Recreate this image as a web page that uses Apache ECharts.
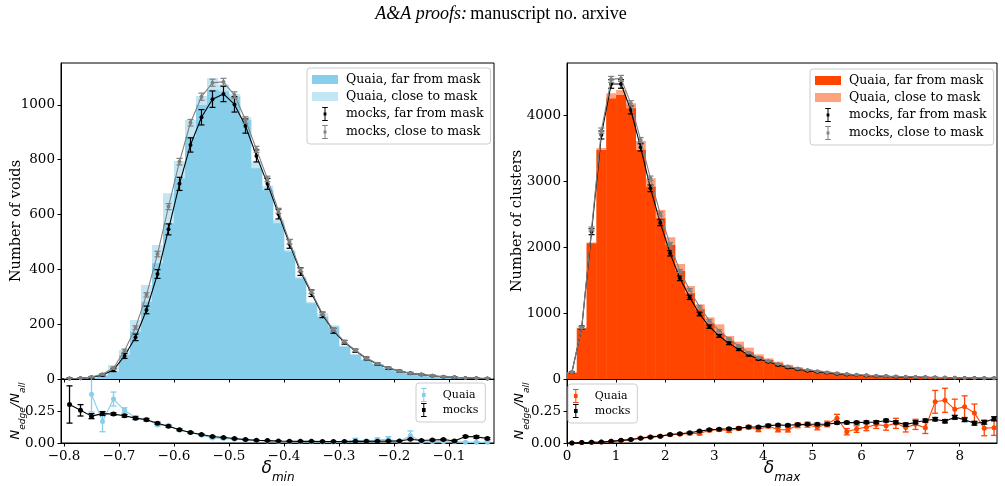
<!DOCTYPE html>
<html>
<head>
<meta charset="utf-8">
<script src="https://cdn.jsdelivr.net/npm/echarts@6/dist/echarts.min.js"></script>
<style>
html, body { margin: 0; padding: 0; background: #fff; }
#chart { width: 1005px; height: 486px; }
</style>
</head>
<body>
<div id="chart"></div>
<script>
// bin centres
var binsL = [-0.79, -0.77, -0.75, -0.73, -0.71, -0.69, -0.67, -0.65, -0.63, -0.61, -0.59, -0.57, -0.55,
  -0.53, -0.51, -0.49, -0.47, -0.45, -0.43, -0.41, -0.39, -0.37, -0.35, -0.33, -0.31, -0.29, -0.27,
  -0.25, -0.23, -0.21, -0.19, -0.17, -0.15, -0.13, -0.11, -0.09, -0.07, -0.05, -0.03];
var binsR = [0.1, 0.3, 0.5, 0.7, 0.9, 1.1, 1.3, 1.5, 1.7, 1.9, 2.1, 2.3, 2.5, 2.7, 2.9, 3.1, 3.3, 3.5,
  3.7, 3.9, 4.1, 4.3, 4.5, 4.7, 4.9, 5.1, 5.3, 5.5, 5.7, 5.9, 6.1, 6.3, 6.5, 6.7, 6.9, 7.1, 7.3, 7.5,
  7.7, 7.9, 8.1, 8.3, 8.5, 8.7];

// voids (delta_min)
var voidsFar = [1, 2, 4, 12, 27, 88, 173, 282, 422, 568, 732, 884, 1000, 1055, 1050, 1030, 945, 769,
  690, 568, 465, 367, 276, 227, 191, 118, 88, 69, 55, 39, 27, 20, 13, 9, 7, 5, 4, 3, 2];
var voidsAll = [2, 3, 6, 18, 51, 106, 215, 343, 489, 678, 795, 945, 1033, 1097, 1075, 1040, 955, 793,
  705, 580, 472, 372, 282, 240, 196, 122, 91, 71, 56, 40, 28, 21, 14, 10, 7, 5, 4, 3, 2];
var mockVoidsFar = [2, 3, 6, 15, 33, 84, 152, 252, 383, 546, 712, 854, 955, 1021, 1040, 1002, 923, 814,
  712, 602, 493, 392, 313, 234, 176, 134, 103, 75, 55, 39, 29, 21, 16, 12, 8, 6, 4, 3, 2];
var mockVoidsFarErr = [2, 2, 3, 4, 6, 9, 12, 14, 16, 20, 24, 26, 28, 30, 28, 28, 26, 22, 20, 18, 16, 14,
  12, 10, 9, 7, 6, 5, 4, 4, 3, 3, 2, 2, 2, 2, 1, 1, 1];
var mockVoidsClose = [2, 3, 7, 17, 40, 103, 187, 307, 456, 629, 793, 935, 1030, 1081, 1084, 1036, 945,
  838, 730, 614, 501, 398, 318, 238, 179, 136, 104, 76, 56, 40, 29, 21, 16, 12, 8, 6, 4, 3, 2];
var mockVoidsCloseErr = [1, 1, 2, 3, 4, 6, 7, 8, 10, 11, 12, 12, 13, 13, 13, 12, 12, 11, 10, 9, 8, 7, 6,
  5, 5, 4, 4, 3, 3, 2, 2, 2, 2, 1, 1, 1, 1, 1, 1];

var voidsRatio = [null, null, 0.385, 0.169, 0.347, 0.258, 0.2, 0.185, 0.143, 0.137, 0.102, 0.083, 0.062,
  0.04, 0.035, 0.03, 0.025, 0.02, 0.015, 0.012, 0.01, 0.01, 0.01, 0.008, 0.008, 0.01, 0.022, 0.015,
  0.025, 0.03, 0.012, 0.06, 0.01, 0.01, 0.01, 0.01, 0.005, 0.005, 0.005];
var voidsRatioErr = [null, null, 0.14, 0.08, 0.055, 0.02, 0.015, 0.012, 0.01, 0.01, 0.008, 0.007, 0.006,
  0.005, 0.005, 0.004, 0.004, 0.003, 0.003, 0.003, 0.003, 0.003, 0.003, 0.003, 0.004, 0.006, 0.015,
  0.01, 0.015, 0.02, 0.01, 0.035, 0.01, 0.01, 0.01, 0.01, 0.005, 0.005, 0.005];
var mockVoidsRatio = [0.304, 0.258, 0.212, 0.232, 0.228, 0.215, 0.196, 0.183, 0.156, 0.132, 0.105,
  0.083, 0.067, 0.051, 0.043, 0.035, 0.027, 0.022, 0.019, 0.016, 0.014, 0.013, 0.013, 0.012, 0.012,
  0.012, 0.013, 0.013, 0.014, 0.015, 0.016, 0.03, 0.02, 0.024, 0.027, 0.016, 0.051, 0.048, 0.035];
var mockVoidsRatioErr = [0.147, 0.045, 0.02, 0.015, 0.01, 0.01, 0.01, 0.008, 0.008, 0.007, 0.006, 0.005,
  0.004, 0.004, 0.003, 0.003, 0.003, 0.002, 0.002, 0.002, 0.002, 0.002, 0.002, 0.002, 0.002, 0.002,
  0.002, 0.002, 0.002, 0.002, 0.003, 0.004, 0.004, 0.005, 0.005, 0.006, 0.008, 0.01, 0.008];

// clusters (delta_max)
var clustFar = [95, 768, 2055, 3470, 4252, 4303, 4101, 3470, 2914, 2434, 2030, 1636, 1298, 1056, 843,
  692, 581, 490, 404, 338, 288, 237, 190, 160, 135, 115, 98, 85, 72, 62, 54, 47, 42, 37, 33, 30, 27,
  23, 20, 17, 15, 13, 11, 10];
var clustAll = [100, 780, 2070, 3500, 4330, 4380, 4180, 3606, 3040, 2560, 2146, 1742, 1409, 1131, 934,
  828, 652, 566, 475, 374, 313, 263, 215, 180, 152, 130, 110, 95, 80, 70, 62, 54, 48, 42, 38, 34, 30,
  28, 24, 21, 18, 16, 13, 12];
var mockClustFar = [101, 778, 2232, 3697, 4470, 4470, 4076, 3510, 2889, 2369, 1904, 1525, 1237, 985,
  793, 652, 540, 449, 364, 303, 263, 212, 175, 148, 126, 108, 93, 80, 69, 60, 52, 45, 40, 35, 31, 28,
  25, 22, 20, 18, 16, 14, 12, 11];
var mockClustFarErr = [10, 25, 45, 60, 65, 65, 60, 55, 50, 45, 40, 35, 32, 28, 25, 22, 20, 18, 15, 14,
  12, 11, 10, 9, 8, 7, 7, 6, 6, 5, 5, 4, 4, 4, 3, 3, 3, 3, 2, 2, 2, 2, 2, 2];
var mockClustClose = [101, 778, 2273, 3763, 4540, 4555, 4176, 3621, 3040, 2500, 2040, 1636, 1348, 1096,
  884, 732, 606, 500, 399, 323, 273, 227, 190, 160, 136, 117, 100, 86, 75, 65, 57, 50, 44, 39, 34, 30,
  27, 24, 21, 19, 17, 15, 13, 12];
var mockClustCloseErr = [6, 15, 30, 40, 45, 45, 40, 38, 35, 30, 27, 24, 21, 18, 16, 14, 12, 11, 10, 9,
  8, 7, 6, 6, 5, 5, 4, 4, 4, 3, 3, 3, 3, 2, 2, 2, 2, 2, 2, 2, 1, 1, 1, 1];

var clustRatio = [0, 0.003, 0.005, 0.008, 0.013, 0.02, 0.027, 0.04, 0.05, 0.054, 0.065, 0.07, 0.075,
  0.075, 0.1, 0.105, 0.097, 0.115, 0.125, 0.105, 0.135, 0.105, 0.105, 0.14, 0.145, 0.125, 0.15, 0.196,
  0.089, 0.11, 0.125, 0.145, 0.136, 0.155, 0.122, 0.147, 0.12, 0.325, 0.337, 0.266, 0.287, 0.237,
  0.117, 0.12];
var clustRatioErr = [0.001, 0.002, 0.002, 0.003, 0.003, 0.004, 0.005, 0.006, 0.006, 0.007, 0.008, 0.008,
  0.009, 0.01, 0.011, 0.012, 0.012, 0.013, 0.014, 0.015, 0.016, 0.017, 0.018, 0.019, 0.02, 0.021,
  0.022, 0.03, 0.025, 0.026, 0.028, 0.03, 0.035, 0.04, 0.035, 0.04, 0.045, 0.09, 0.095, 0.08, 0.085,
  0.07, 0.06, 0.06];
var mockClustRatio = [0, 0.003, 0.005, 0.008, 0.013, 0.021, 0.027, 0.038, 0.046, 0.054, 0.067, 0.073,
  0.081, 0.094, 0.105, 0.108, 0.113, 0.116, 0.126, 0.126, 0.137, 0.142, 0.14, 0.145, 0.148, 0.148,
  0.148, 0.159, 0.161, 0.161, 0.164, 0.164, 0.177, 0.164, 0.145, 0.164, 0.177, 0.188, 0.172, 0.204,
  0.183, 0.156, 0.164, 0.191];
var mockClustRatioErr = [0.001, 0.001, 0.001, 0.002, 0.002, 0.002, 0.003, 0.003, 0.003, 0.004, 0.004,
  0.004, 0.005, 0.005, 0.005, 0.005, 0.006, 0.006, 0.006, 0.007, 0.007, 0.007, 0.008, 0.008, 0.008,
  0.009, 0.009, 0.009, 0.01, 0.01, 0.01, 0.01, 0.011, 0.011, 0.012, 0.012, 0.012, 0.013, 0.013, 0.014,
  0.014, 0.015, 0.015, 0.016];

var xTicksL = [-0.8, -0.7, -0.6, -0.5, -0.4, -0.3, -0.2, -0.1];
var xTicksR = [0, 1, 2, 3, 4, 5, 6, 7, 8];
var ratioTicks = [0, 0.25];

var SERIF = 'DejaVu Serif';
var BLUE = '#87CEEB', BLUE_L = '#C3E6F5', RED = '#FF4500', RED_L = '#FFA280', GREY = '#808080';

var chart = echarts.init(document.getElementById('chart'));

function pairs(xs, ys) {
  var out = [];
  xs.forEach(function (x, i) { if (ys[i] != null) out.push([x, ys[i]]); });
  return out;
}
function errData(xs, ys, es) {
  var out = [];
  xs.forEach(function (x, i) { if (ys[i] != null) out.push([x, ys[i] - es[i], ys[i] + es[i]]); });
  return out;
}

function histSeries(name, xs, ys, half, color, xi, yi) {
  return {
    type: 'custom', name: name, xAxisIndex: xi, yAxisIndex: yi, clip: true, z: 1,
    itemStyle: { color: color },
    data: pairs(xs, ys),
    renderItem: function (params, api) {
      var x = api.value(0), y = api.value(1);
      var p0 = api.coord([x - half, y]);
      var p1 = api.coord([x + half, 0]);
      return { type: 'rect',
        shape: { x: p0[0], y: p0[1], width: p1[0] - p0[0] + 0.3, height: p1[1] - p0[1] },
        style: { fill: color } };
    }
  };
}

function errSeries(name, xs, ys, es, color, xi, yi, lw, z) {
  return {
    type: 'custom', name: name, xAxisIndex: xi, yAxisIndex: yi, clip: true, z: z,
    itemStyle: { color: color },
    data: errData(xs, ys, es),
    renderItem: function (params, api) {
      var x = api.value(0);
      var a = api.coord([x, api.value(2)]), b = api.coord([x, api.value(1)]);
      var c = 3;
      var st = { stroke: color, lineWidth: lw };
      return { type: 'group', children: [
        { type: 'line', shape: { x1: a[0], y1: a[1], x2: b[0], y2: b[1] }, style: st },
        { type: 'line', shape: { x1: a[0] - c, y1: a[1], x2: a[0] + c, y2: a[1] }, style: st },
        { type: 'line', shape: { x1: b[0] - c, y1: b[1], x2: b[0] + c, y2: b[1] }, style: st }
      ] };
    }
  };
}

function lineSeries(name, xs, ys, color, xi, yi, size, z) {
  return {
    type: 'line', name: name, xAxisIndex: xi, yAxisIndex: yi, z: z,
    data: pairs(xs, ys), symbol: 'circle', symbolSize: size, showSymbol: true,
    lineStyle: { color: color, width: 1.1 }, itemStyle: { color: color },
    emphasis: { disabled: true }
  };
}

var rectIcon = 'path://M0,0H26V9H0Z';
var errIcon = 'path://M1,0H9V1.4H5.7V8H7V12H5.7V18.6H9V20H1V18.6H4.3V12H3V8H4.3V1.4H1Z';
var errIconDot = 'path://M1,0H9V1.4H5.7V7.3H7.6V12.7H5.7V18.6H9V20H1V18.6H4.3V12.7H2.4V7.3H4.3V1.4H1Z';

function legend(left, top, items, fs, iw, gap) {
  return {
    left: left, top: top, orient: 'vertical', selectedMode: false,
    itemWidth: iw, itemHeight: 14, itemGap: gap,
    padding: [5, 7, 5, 5],
    backgroundColor: 'rgba(255,255,255,0.8)', borderColor: '#cccccc', borderWidth: 1, borderRadius: 3,
    textStyle: { fontFamily: SERIF, fontSize: fs, color: '#000', padding: [0, 0, 0, 3] },
    formatter: function (n) { return n.split('::')[1]; },
    data: items
  };
}

function valueAxis(gi, min, max, ticks, showLabels, fmt) {
  return {
    type: 'value', gridIndex: gi, min: min, max: max,
    splitLine: { show: false },
    axisLine: { show: true, onZero: false, lineStyle: { color: '#000', width: 1 } },
    axisTick: { show: true, length: 3.5, customValues: ticks, lineStyle: { color: '#000', width: 1 } },
    axisLabel: { show: showLabels, customValues: ticks, margin: 6, color: '#000',
      fontFamily: SERIF, fontSize: 13.5, formatter: fmt }
  };
}

function fmtL(v) { return (v < 0 ? '\u2212' : '') + Math.abs(v).toFixed(1); }
function fmtInt(v) { return String(Math.round(v)); }
function fmt2(v) { return v.toFixed(2); }

var gridStyle = { show: true, borderColor: '#000', borderWidth: 1, backgroundColor: 'transparent' };

var option = {
  animation: false,
  backgroundColor: '#fff',
  grid: [
    Object.assign({ left: 61, top: 63, width: 433, height: 316 }, gridStyle),
    Object.assign({ left: 61, top: 379, width: 433, height: 64 }, gridStyle),
    Object.assign({ left: 567, top: 63, width: 430, height: 316 }, gridStyle),
    Object.assign({ left: 567, top: 379, width: 430, height: 64 }, gridStyle)
  ],
  xAxis: [
    valueAxis(0, -0.8055, -0.018, xTicksL, false, fmtL),
    valueAxis(1, -0.8055, -0.018, xTicksL, true, fmtL),
    valueAxis(2, 0, 8.76, xTicksR, false, fmtInt),
    valueAxis(3, 0, 8.76, xTicksR, true, fmtInt)
  ],
  yAxis: [
    valueAxis(0, 0, 1153, [0, 200, 400, 600, 800, 1000], true, fmtInt),
    valueAxis(1, 0, 0.505, ratioTicks, true, fmt2),
    valueAxis(2, 0, 4788, [0, 1000, 2000, 3000, 4000], true, fmtInt),
    valueAxis(3, 0, 0.505, ratioTicks, true, fmt2)
  ],
  legend: [
    legend(307, 68, [
      { name: 'L::Quaia, far from mask', icon: rectIcon, itemStyle: { color: BLUE } },
      { name: 'L::Quaia, close to mask', icon: rectIcon, itemStyle: { color: BLUE_L } },
      { name: 'L::mocks, far from mask', icon: errIcon, itemStyle: { color: '#000' } },
      { name: 'L::mocks, close to mask', icon: errIcon, itemStyle: { color: GREY } }
    ], 12.5, 26, 4),
    legend(810, 69, [
      { name: 'R::Quaia, far from mask', icon: rectIcon, itemStyle: { color: RED } },
      { name: 'R::Quaia, close to mask', icon: rectIcon, itemStyle: { color: RED_L } },
      { name: 'R::mocks, far from mask', icon: errIcon, itemStyle: { color: '#000' } },
      { name: 'R::mocks, close to mask', icon: errIcon, itemStyle: { color: GREY } }
    ], 12.5, 26, 4),
    legend(416, 383, [
      { name: 'LB::Quaia', icon: errIconDot, itemStyle: { color: BLUE } },
      { name: 'LB::mocks', icon: errIconDot, itemStyle: { color: '#000' } }
    ], 11, 22, 1),
    legend(568, 384, [
      { name: 'RB::Quaia', icon: errIconDot, itemStyle: { color: RED } },
      { name: 'RB::mocks', icon: errIconDot, itemStyle: { color: '#000' } }
    ], 11, 22, 1)
  ],
  series: [
    // voids, top
    histSeries('L::Quaia, close to mask', binsL, voidsAll, 0.01, BLUE_L, 0, 0),
    histSeries('L::Quaia, far from mask', binsL, voidsFar, 0.01, BLUE, 0, 0),
    errSeries('L::mocks, far from mask', binsL, mockVoidsFar, mockVoidsFarErr, '#000', 0, 0, 1.2, 3),
    lineSeries('L::mocks, far from mask', binsL, mockVoidsFar, '#000', 0, 0, 4, 3),
    errSeries('L::mocks, close to mask', binsL, mockVoidsClose, mockVoidsCloseErr, GREY, 0, 0, 1.2, 4),
    lineSeries('L::mocks, close to mask', binsL, mockVoidsClose, GREY, 0, 0, 4, 4),
    // voids, ratio
    errSeries('LB::Quaia', binsL, voidsRatio, voidsRatioErr, BLUE, 1, 1, 1.3, 3),
    lineSeries('LB::Quaia', binsL, voidsRatio, BLUE, 1, 1, 5, 3),
    errSeries('LB::mocks', binsL, mockVoidsRatio, mockVoidsRatioErr, '#000', 1, 1, 1.3, 4),
    lineSeries('LB::mocks', binsL, mockVoidsRatio, '#000', 1, 1, 5, 4),
    // clusters, top
    histSeries('R::Quaia, close to mask', binsR, clustAll, 0.1, RED_L, 2, 2),
    histSeries('R::Quaia, far from mask', binsR, clustFar, 0.1, RED, 2, 2),
    errSeries('R::mocks, far from mask', binsR, mockClustFar, mockClustFarErr, '#000', 2, 2, 1.2, 3),
    lineSeries('R::mocks, far from mask', binsR, mockClustFar, '#000', 2, 2, 4, 3),
    errSeries('R::mocks, close to mask', binsR, mockClustClose, mockClustCloseErr, GREY, 2, 2, 1.2, 4),
    lineSeries('R::mocks, close to mask', binsR, mockClustClose, GREY, 2, 2, 4, 4),
    // clusters, ratio
    errSeries('RB::Quaia', binsR, clustRatio, clustRatioErr, RED, 3, 3, 1.3, 3),
    lineSeries('RB::Quaia', binsR, clustRatio, RED, 3, 3, 5, 3),
    errSeries('RB::mocks', binsR, mockClustRatio, mockClustRatioErr, '#000', 3, 3, 1.3, 4),
    lineSeries('RB::mocks', binsR, mockClustRatio, '#000', 3, 3, 5, 4)
  ],
  graphic: [
    { type: 'text', x: 501, y: 14, style: {
      text: '{i|A&A proofs:} {r|manuscript no. arxive}', textAlign: 'center', textVerticalAlign: 'middle',
      rich: { i: { fontFamily: 'Liberation Serif', fontStyle: 'italic', fontSize: 18, fill: '#000' },
              r: { fontFamily: 'Liberation Serif', fontSize: 18, fill: '#000' } } } },
    { type: 'text', x: 16, y: 221, rotation: Math.PI / 2, style: {
      text: 'Number of voids', font: '14.5px "DejaVu Serif"', fill: '#000',
      textAlign: 'center', textVerticalAlign: 'middle' } },
    { type: 'text', x: 517, y: 221, rotation: Math.PI / 2, style: {
      text: 'Number of clusters', font: '14.5px "DejaVu Serif"', fill: '#000',
      textAlign: 'center', textVerticalAlign: 'middle' } },
    { type: 'text', x: 18, y: 411, rotation: Math.PI / 2, style: {
      text: '{n|N}{s|edge}{n|/N}{s|all}', textAlign: 'center', textVerticalAlign: 'middle',
      rich: { n: { fontFamily: 'DejaVu Sans', fontStyle: 'italic', fontSize: 13, lineHeight: 18, verticalAlign: 'top', fill: '#000' },
              s: { fontFamily: 'DejaVu Sans', fontStyle: 'italic', fontSize: 9, lineHeight: 18, verticalAlign: 'bottom', fill: '#000' } } } },
    { type: 'text', x: 522, y: 411, rotation: Math.PI / 2, style: {
      text: '{n|N}{s|edge}{n|/N}{s|all}', textAlign: 'center', textVerticalAlign: 'middle',
      rich: { n: { fontFamily: 'DejaVu Sans', fontStyle: 'italic', fontSize: 13, lineHeight: 18, verticalAlign: 'top', fill: '#000' },
              s: { fontFamily: 'DejaVu Sans', fontStyle: 'italic', fontSize: 9, lineHeight: 18, verticalAlign: 'bottom', fill: '#000' } } } },
    { type: 'text', x: 278, y: 472, style: {
      text: '{d|\u03b4}{s|min}', textAlign: 'center', textVerticalAlign: 'middle',
      rich: { d: { fontFamily: 'DejaVu Sans', fontStyle: 'italic', fontSize: 17, lineHeight: 24, verticalAlign: 'top', fill: '#000' },
              s: { fontFamily: 'DejaVu Sans', fontStyle: 'italic', fontSize: 12, lineHeight: 24, verticalAlign: 'bottom', fill: '#000' } } } },
    { type: 'text', x: 782, y: 472, style: {
      text: '{d|\u03b4}{s|max}', textAlign: 'center', textVerticalAlign: 'middle',
      rich: { d: { fontFamily: 'DejaVu Sans', fontStyle: 'italic', fontSize: 17, lineHeight: 24, verticalAlign: 'top', fill: '#000' },
              s: { fontFamily: 'DejaVu Sans', fontStyle: 'italic', fontSize: 12, lineHeight: 24, verticalAlign: 'bottom', fill: '#000' } } } }
  ]
};

chart.setOption(option);
</script>
</body>
</html>
